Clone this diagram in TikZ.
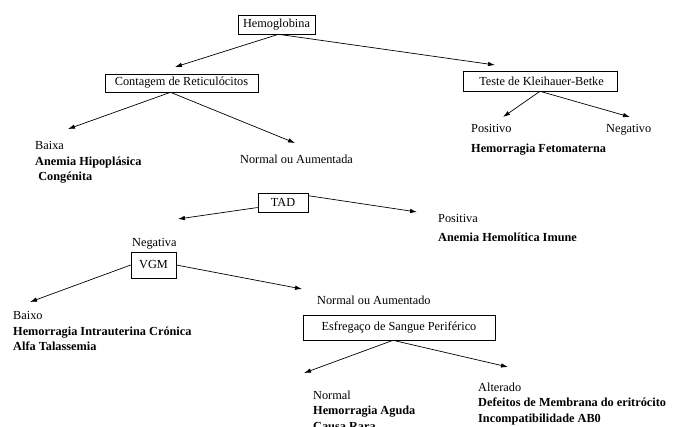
\documentclass[tikz,border=0pt]{standalone}
\usepackage{fontspec}
\setmainfont{Liberation Serif}
\usetikzlibrary{arrows.meta}

\begin{document}
\begin{tikzpicture}[x=1pt, y=-1pt,
  caixa/.style={draw, line width=0.6pt, inner sep=0pt, font=\fontsize{12.3}{14}\selectfont},
  txt/.style={anchor=north west, inner sep=0pt, align=left, font=\fontsize{12.3}{15.5}\selectfont},
  seta/.style={-{Latex[length=7pt,width=4.5pt]}, line width=0.7pt}]
\useasboundingbox (0,0) rectangle (675,426);
% caixas
\node[caixa, minimum width=77, minimum height=19] (hemo) at (276.5,24.5) {Hemoglobina};
\node[caixa, minimum width=153, minimum height=18] (cont) at (181.5,83) {Contagem de Reticulócitos};
\node[caixa, minimum width=154, minimum height=20] (klei) at (540,81) {\ Teste de Kleihauer-Betke};
\node[caixa, minimum width=50, minimum height=19] (tad) at (283,202.5) {TAD};
\node[caixa, minimum width=45, minimum height=26] (vgm) at (153.5,265) {VGM};
\node[caixa, minimum width=192, minimum height=25] (esf) at (399,327.5) {Esfregaço de Sangue Periférico};
% textos
\node[txt] (baixa) at (35,141.5) {Baixa\\ \textbf{Anemia Hipoplásica}\\ \textbf{\ Congénita}};
\node[txt] (normAumA) at (240,154.5) {Normal ou Aumentada};
\node[txt] (positivo) at (471,124.5) {Positivo\\[4.5pt] \textbf{Hemorragia Fetomaterna}};
\node[txt] (negativo) at (606,124.5) {Negativo};
\node[txt] (positiva) at (438,214.5) {Positiva\\[3.5pt] \textbf{Anemia Hemolítica Imune}};
\node[txt] (negativa) at (132,238.5) {Negativa};
\node[txt] (baixo) at (13,311.5) {Baixo\\ \textbf{Hemorragia Intrauterina Crónica}\\ \textbf{Alfa Talassemia}};
\node[txt] (normAumO) at (317,295.5) {Normal ou Aumentado};
\node[txt] (normal) at (313,390.5) {Normal\\ \textbf{Hemorragia Aguda}\\ \textbf{Causa Rara}};
\node[txt] (alterado) at (478,382.5) {Alterado\\ \textbf{Defeitos de Membrana do eritrócito}\\ \textbf{Incompatibilidade AB0}};
% pontas das setas
\coordinate (pCont) at (175,67);
\coordinate (pKlei) at (495,65);
\coordinate (pPositivo) at (503,117);
\coordinate (pNegativo) at (630,117);
\coordinate (pBaixa) at (68,129);
\coordinate (pNormAumA) at (295,143);
\coordinate (pNegativa) at (178,219);
\coordinate (pPositiva) at (417,212);
\coordinate (pBaixo) at (30,302);
\coordinate (pNormAumO) at (302,289);
\coordinate (pNormal) at (304,373);
\coordinate (pAlterado) at (508,367);
% setas
\draw[seta] ([xshift=2pt]hemo.south) -- (pCont);
\draw[seta] ([xshift=2pt]hemo.south) -- (pKlei);
\draw[seta] (klei.south) -- (pPositivo);
\draw[seta] (klei.south) -- (pNegativo);
\draw[seta] ([xshift=-11pt]cont.south) -- (pBaixa);
\draw[seta] ([xshift=-11pt]cont.south) -- (pNormAumA);
\draw[seta] ([yshift=-5pt]tad.west) -- (pNegativa);
\draw[seta] ([yshift=-3pt]tad.north east) -- (pPositiva);
\draw[seta] (vgm.west) -- (pBaixo);
\draw[seta] (vgm.east) -- (pNormAumO);
\draw[seta] ([xshift=-6pt]esf.south) -- (pNormal);
\draw[seta] ([xshift=-6pt]esf.south) -- (pAlterado);
\end{tikzpicture}
\end{document}
